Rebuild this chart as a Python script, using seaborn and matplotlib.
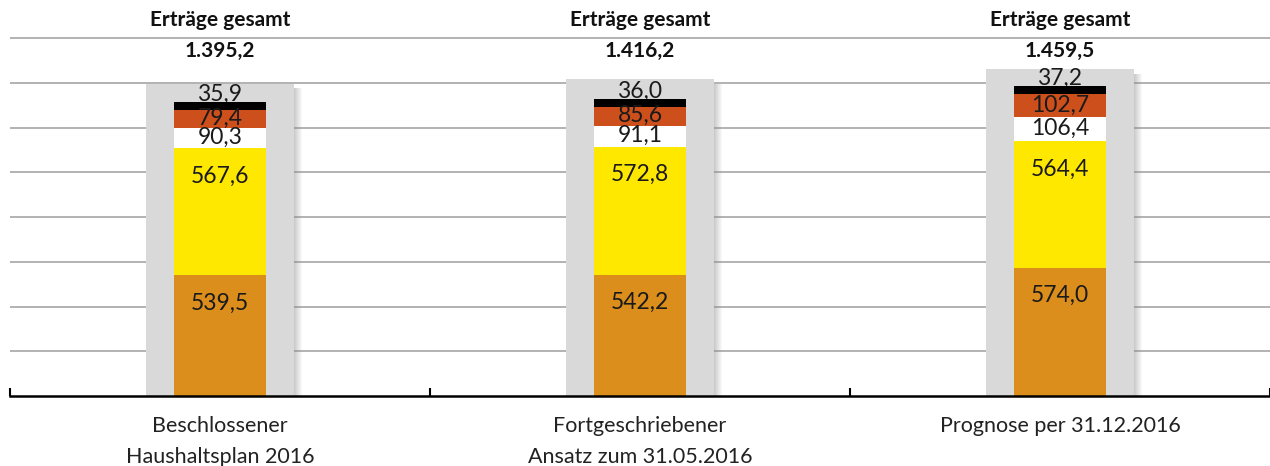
import numpy as np
import matplotlib
matplotlib.use("Agg")
import matplotlib.pyplot as plt
import seaborn as sns

# Data (Mio. EUR)
categories = ["Beschlossener\nHaushaltsplan 2016",
              "Fortgeschriebener\nAnsatz zum 31.05.2016",
              "Prognose per 31.12.2016"]
totals = [1395.2, 1416.2, 1459.5]
seg_orange = [539.5, 542.2, 574.0]
seg_yellow = [567.6, 572.8, 564.4]
seg_white = [90.3, 91.1, 106.4]
seg_red = [79.4, 85.6, 102.7]
seg_black = [35.9, 36.0, 37.2]

GREY = "#D9D9D9"
ORANGE = "#DB8E1C"
YELLOW = "#FFE800"
RED = "#CD4F1C"


def de_fmt(v):
    # German number format: 1.395,2
    s = f"{v:,.1f}"
    return s.replace(",", "X").replace(".", ",").replace("X", ".")


sns.set_style("white")
plt.rcParams['font.family'] = ['Lato', 'DejaVu Sans']

fig = plt.figure(figsize=(12.7, 4.66), dpi=100)
ax = fig.add_axes([10 / 1270, 70 / 466, 1260 / 1270, 396 / 466])

px = 0.22375  # pixels per unit in the reference
ymax = 396 / px
x = np.arange(len(categories))

# soft shadow right of the grey total bars
for k in range(8):
    ax.bar(x + 0.176 + k * 0.0025 + 0.00125, np.array(totals) - 20, width=0.0025,
           color="#8c8c8c", alpha=0.45 * (1 - k / 8), linewidth=0, zorder=1)

# grey bars = total revenue
sns.barplot(x=categories, y=totals, color=GREY, width=0.352, saturation=1,
            linewidth=0, ax=ax, zorder=2)

# stacked segments, drawn as cumulative sums from top down
segments = [
    (seg_orange, ORANGE, "top"),
    (seg_yellow, YELLOW, "top"),
    (seg_white, "white", "center"),
    (seg_red, RED, "center"),
    (seg_black, "black", "above"),
]
cums = np.cumsum([s[0] for s in segments], axis=0)
for (vals, color, _), cum in reversed(list(zip(segments, cums))):
    sns.barplot(x=categories, y=cum, color=color, width=0.22, saturation=1,
                linewidth=0, ax=ax, zorder=3)

# segment labels
for (vals, color, mode), cum in zip(segments, cums):
    for i, (v, top) in enumerate(zip(vals, cum)):
        if mode == "top":
            y = top - 28 / px
        elif mode == "center":
            y = top - v / 2 + 1 / px
        else:
            y = top + 8 / px
        ax.text(i, y, de_fmt(v), ha="center", va="center", fontsize=16.5,
                color="#1a1a1a", zorder=2.5 if mode == "above" else 4)

# headers above each column
for i, t in enumerate(totals):
    ax.text(i, (396 - 20) / px, "Erträge gesamt", ha="center", va="center",
            fontsize=15, fontweight="bold", color="#111111")
    ax.text(i, (396 - 51) / px, de_fmt(t), ha="center", va="center",
            fontsize=15, fontweight="bold", color="#111111")

ax.set_ylim(0, ymax)
ax.set_xlim(-0.5, len(categories) - 0.5)
ax.set_yticks(np.arange(200, 1601, 200))
ax.yaxis.grid(True, color="#A6A6A6", linewidth=1.2)
ax.set_axisbelow(True)
ax.tick_params(axis="y", left=False, labelleft=False)

ax.set_xticks(np.arange(-0.5, len(categories)), minor=True)
ax.tick_params(axis="x", which="major", length=0, pad=14.5, labelsize=15.5,
               labelcolor="#222222")
ax.tick_params(axis="x", which="minor", direction="in", length=6, width=1.5,
               color="black", bottom=True)
for lbl in ax.get_xticklabels():
    lbl.set_linespacing(1.7)
ax.set_xlabel("")
ax.set_ylabel("")

for side in ["top", "left", "right"]:
    ax.spines[side].set_visible(False)
ax.spines["bottom"].set_color("black")
ax.spines["bottom"].set_linewidth(1.8)
ax.spines["bottom"].set_zorder(5)

fig.savefig("out.png", dpi=100)
